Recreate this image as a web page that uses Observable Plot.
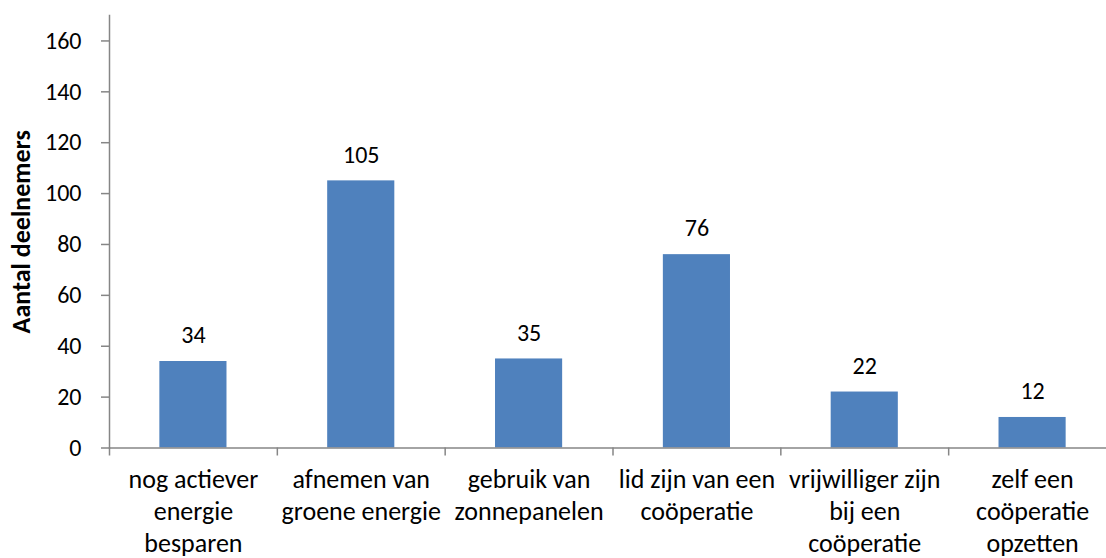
<!DOCTYPE html>
<html><head><meta charset="utf-8">
<script src="https://cdn.jsdelivr.net/npm/d3@7"></script>
<script src="https://cdn.jsdelivr.net/npm/@observablehq/plot@0.6"></script>
<style>html,body{margin:0;padding:0;background:#fff;overflow:hidden}</style>
</head><body><div id="chart"></div>
<script>
const categories = ["nog actiever energie besparen", "afnemen van groene energie", "gebruik van zonnepanelen", "lid zijn van een coöperatie", "vrijwilliger zijn bij een coöperatie", "zelf een coöperatie opzetten"];
const tickLabels = ["nog actiever\nenergie\nbesparen", "afnemen van\ngroene energie", "gebruik van\nzonnepanelen", "lid zijn van een\ncoöperatie", "vrijwilliger zijn\nbij een\ncoöperatie", "zelf een\ncoöperatie\nopzetten"];
const values = [34, 105, 35, 76, 22, 12];
const yTicks = [0, 20, 40, 60, 80, 100, 120, 140, 160];
const yTitle = "Aantal deelnemers";

const data = categories.map((c, i) => ({category: c, value: values[i]}));

const W = 1106, H = 558, mL = 109, mR = -10, mT = 15, mB = 110.5;
const step = (W - mR - mL) / categories.length;
const font = "Carlito, Calibri, Lato, sans-serif";
const axisColor = "#868686";

const chart = Plot.plot({
  width: W, height: H,
  marginLeft: mL, marginRight: mR, marginTop: mT, marginBottom: mB,
  style: {fontFamily: font, fontSize: "24px", color: "#000", background: "#fff", overflow: "hidden"},
  x: {domain: categories, paddingInner: 0.6, paddingOuter: 0.3, round: false},
  y: {domain: [0, 170]},
  marks: [
    Plot.barY(data, {x: "category", y: "value", fill: "#4F81BD"}),
    Plot.frame({anchor: "left", stroke: axisColor, strokeWidth: 1.5}),
    Plot.ruleY([0], {stroke: axisColor, strokeWidth: 1.5}),
    Plot.axisY({ticks: yTicks, tickSize: 8, tickPadding: 20, stroke: axisColor, strokeWidth: 1.5, label: null, fontSize: 24}),
    Plot.axisX({tickSize: 8, tickFormat: () => "", dx: -step / 2, stroke: axisColor, strokeWidth: 1.5, label: null}),
    Plot.axisX({tickSize: 0, tickPadding: 17, lineHeight: 1.23, label: null, fontSize: 26,
      tickFormat: d => tickLabels[categories.indexOf(d)]}),
    Plot.text(data, {x: "category", y: "value", text: d => String(d.value), dy: -26, lineAnchor: "middle", fontSize: 24}),
    Plot.text([yTitle], {frameAnchor: "left", rotate: -90, dx: -88, text: d => d, textAnchor: "middle", lineAnchor: "middle", fontWeight: "bold", fontSize: 26})
  ]
});
document.getElementById("chart").appendChild(chart);
</script>
</body></html>
